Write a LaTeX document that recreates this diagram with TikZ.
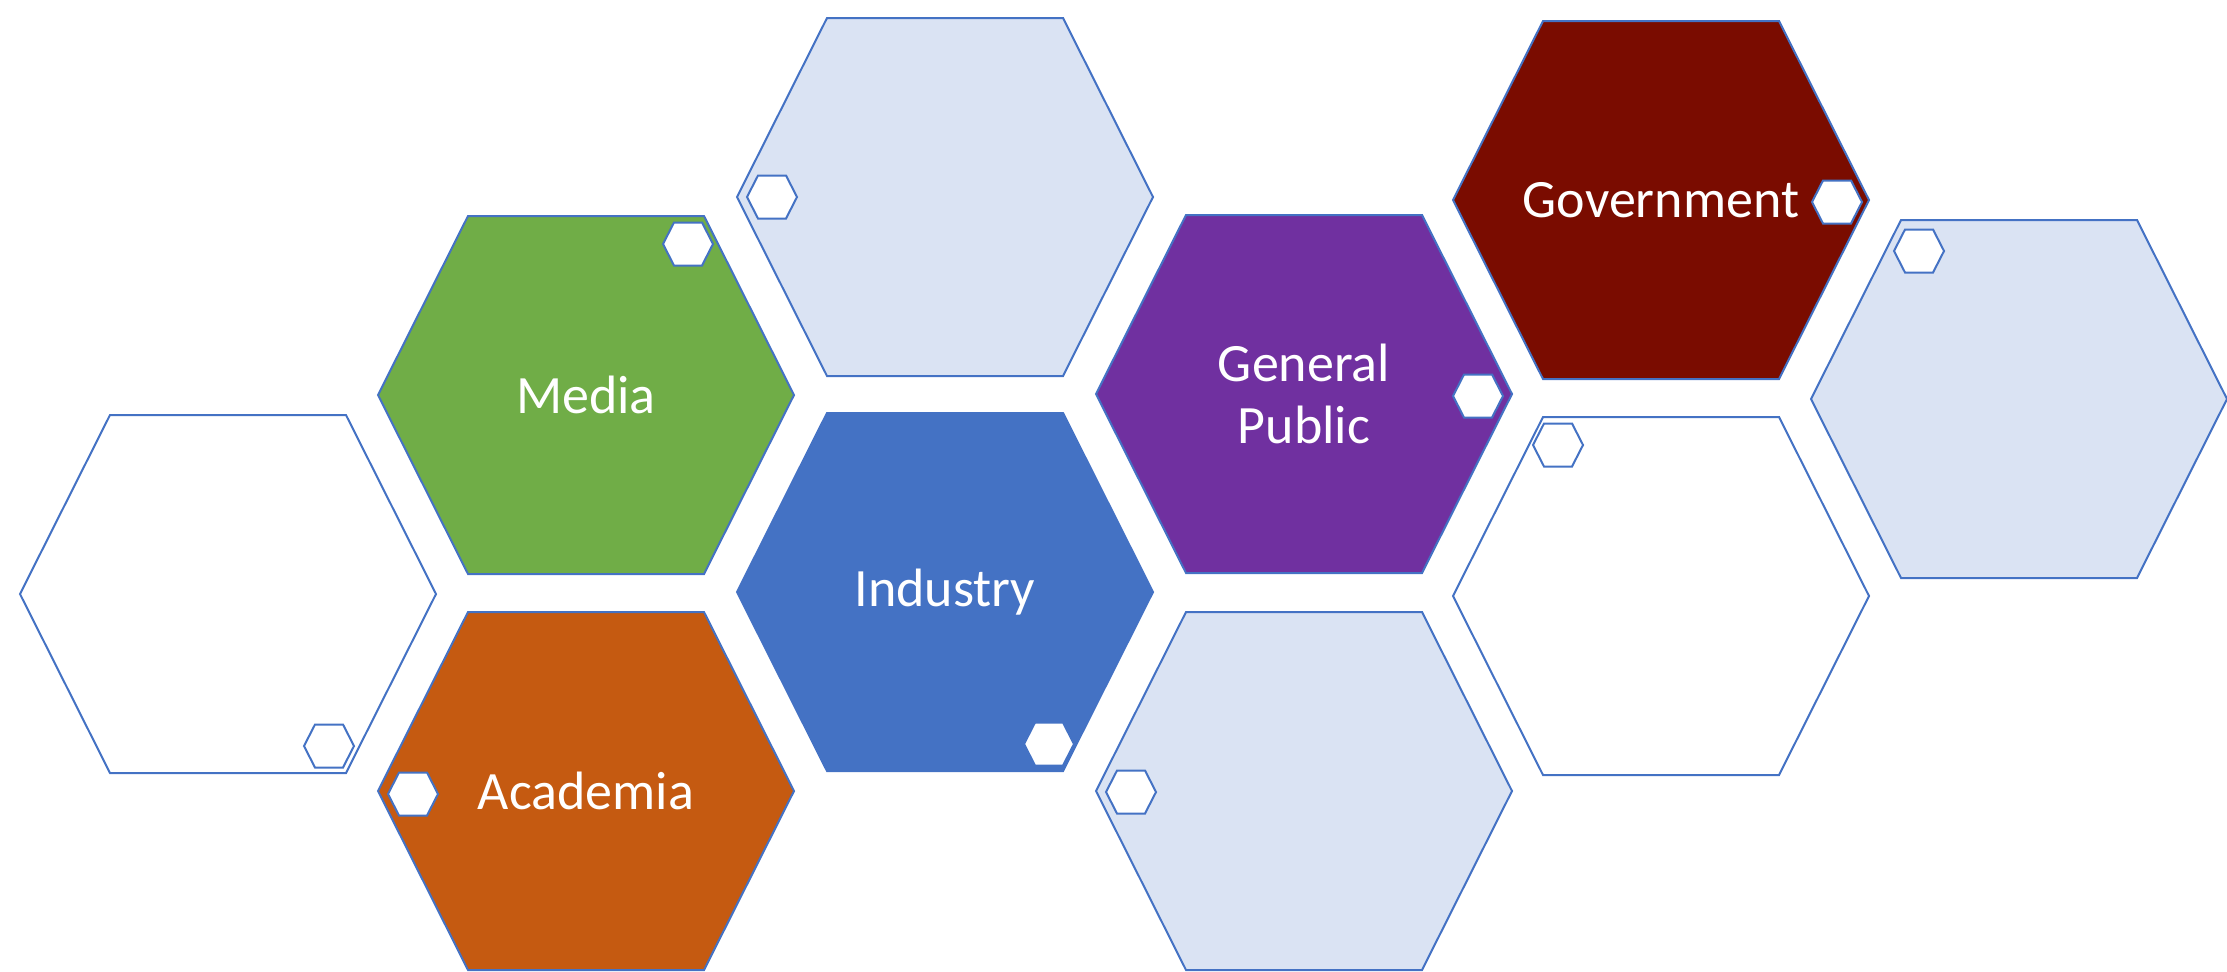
\documentclass[tikz,border=0pt]{standalone}
\usepackage{fontspec}
\setmainfont{Carlito}
\definecolor{hexline}{HTML}{4472C4}
\definecolor{lightfill}{HTML}{DAE3F3}
\definecolor{mediagreen}{HTML}{70AD47}
\definecolor{acadorange}{HTML}{C55A11}
\definecolor{indblue}{HTML}{4472C4}
\definecolor{pubpurple}{HTML}{7030A0}
\definecolor{govred}{HTML}{7A0C00}
\newcommand{\drawhex}[7]{%
  \path[#7] ({#2-#4/2},#3) -- ({#2-#4/2+#6},{#3-#5/2}) -- ({#2+#4/2-#6},{#3-#5/2})
    -- ({#2+#4/2},#3) -- ({#2+#4/2-#6},{#3+#5/2}) -- ({#2-#4/2+#6},{#3+#5/2}) -- cycle;
  \coordinate (#1) at (#2,#3);}
\newcommand{\bighex}[4]{\drawhex{#1}{#2}{#3}{416}{358}{90}{#4}}
\newcommand{\smallhex}[3]{\drawhex{#1}{#2}{#3}{50}{43}{11}{tinyhex}}
\begin{document}
\begin{tikzpicture}[x=0.5pt,y=-0.5pt,
  hexbox/.style={draw=hexline,line width=1pt,line join=miter},
  tinyhex/.style={draw=hexline,fill=white,line width=1pt},
  lbl/.style={text=white,font=\fontsize{27}{31}\selectfont,align=center,inner sep=0pt}]
\useasboundingbox (0,0) rectangle (2227,971);
% big hexagons
\bighex{lw}{228}{594}{hexbox,fill=white}
\bighex{media}{586}{395}{hexbox,fill=mediagreen}
\bighex{tb}{945}{197}{hexbox,fill=lightfill}
\bighex{ind}{945}{592}{hexbox,fill=indblue}
\bighex{acad}{586}{791}{hexbox,fill=acadorange}
\bighex{pub}{1304}{394}{hexbox,fill=pubpurple}
\bighex{bb}{1304}{791}{hexbox,fill=lightfill}
\bighex{gov}{1661}{200}{hexbox,fill=govred}
\bighex{rw}{1661}{596}{hexbox,fill=white}
\bighex{rb}{2019}{399}{hexbox,fill=lightfill}
% small hexagons
\smallhex{slw}{329}{746}
\smallhex{smedia}{688}{244}
\smallhex{stb}{772}{197}
\smallhex{sind}{1049}{744}
\smallhex{sacad}{413}{794}
\smallhex{spub}{1478}{396}
\smallhex{sbb}{1131}{792}
\smallhex{sgov}{1837}{202}
\smallhex{srw}{1558}{445}
\smallhex{srb}{1919}{251}
% labels
\node[lbl] (mediaT) at (media) {Media};
\node[lbl] (indT) at (ind) {Industry};
\node[lbl] (acadT) at (acad) {Academia};
\node[lbl] (pubT) at (pub) {General\\Public};
\node[lbl] (govT) at (gov) {Government};
\end{tikzpicture}
\end{document}
